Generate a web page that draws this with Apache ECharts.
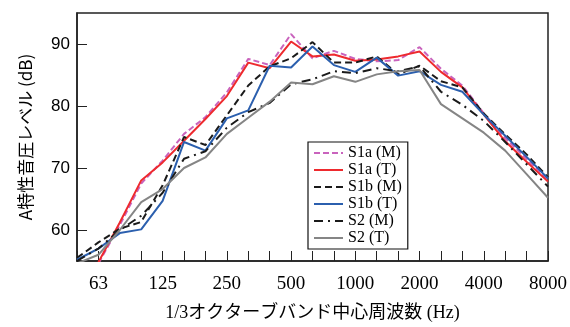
<!DOCTYPE html>
<html><head><meta charset="utf-8">
<script src="https://cdn.jsdelivr.net/npm/echarts@6/dist/echarts.min.js"></script>
<style>html,body{margin:0;padding:0;background:#fff}#c{width:570px;height:327px}</style>
</head><body><div id="c"></div>
<script>
const bands = ['50','63','80','100','125','160','200','250','315','400','500','630','800','1000','1250','1600','2000','2500','3150','4000','5000','6300','8000'];
const tickLabels = ['63','125','250','500','1000','2000','4000','8000'];
const yTicks = [60, 70, 80, 90];
const s1aM = [50.0,54.6,60.8,67.5,71.2,75.5,78.2,82.2,87.6,86.6,91.6,87.7,88.9,87.6,87.2,87.4,89.5,86.0,83.3,78.8,74.8,71.5,68.0];
const s1aT = [50.0,54.8,61.2,68.0,70.9,74.4,77.9,81.6,87.0,86.1,90.4,88.0,88.3,87.3,87.5,88.0,88.8,85.5,83.0,78.6,74.3,71.0,67.8];
const s1bM = [55.5,58.0,60.2,61.3,67.2,75.0,73.7,78.5,83.3,86.4,87.7,90.3,87.0,87.0,88.0,85.1,86.5,84.0,83.0,78.8,75.4,72.2,68.5];
const s1bT = [55.2,57.0,59.5,60.1,64.7,74.2,72.8,78.0,79.3,86.5,86.2,89.6,86.6,85.5,87.8,84.9,85.6,83.4,82.3,78.6,75.2,71.8,68.3];
const s2M  = [55.0,57.0,60.0,62.3,66.0,71.5,72.7,76.5,79.0,80.5,83.5,84.3,85.6,85.3,86.1,85.6,86.4,82.3,80.2,77.6,74.2,70.6,67.0];
const s2T  = [54.6,56.0,60.0,64.5,66.6,70.0,71.7,75.5,78.1,80.7,83.8,83.5,84.8,83.9,85.1,85.6,85.8,80.3,78.0,75.7,72.8,69.0,65.2];

const serif = '"Liberation Serif","Noto Sans CJK JP",serif';
function mk(name, data, color, type, w) {
  return { name, type: 'line', data, symbol: 'none', showSymbol: false, clip: true,
    lineStyle: { color, width: w || 2, type: type || 'solid' }, itemStyle: { color } };
}
const chart = echarts.init(document.getElementById('c'), null, { renderer: 'canvas' });
chart.setOption({
  animation: false,
  grid: { left: 77, right: 21, top: 13, bottom: 55, show: true, borderColor: '#222', borderWidth: 1.5, backgroundColor: 'transparent' },
  legend: {
    orient: 'vertical', left: 308, top: 142,
    backgroundColor: '#fff', borderColor: '#111', borderWidth: 1.2,
    padding: [3, 6, 3, 5], itemGap: 1, itemWidth: 29, itemHeight: 12,
    itemStyle: { opacity: 0 },
    textStyle: { fontFamily: serif, fontSize: 16, color: '#000', lineHeight: 16 },
    data: ['S1a (M)', 'S1a (T)', 'S1b (M)', 'S1b (T)', 'S2 (M)', 'S2 (T)']
  },
  xAxis: {
    type: 'category', data: bands, boundaryGap: false,
    name: '1/3オクターブバンド中心周波数 (Hz)', nameLocation: 'middle', nameGap: 43,
    nameTextStyle: { fontFamily: serif, fontSize: 18, color: '#000' },
    axisLine: { show: true, lineStyle: { color: '#222', width: 1.5 } },
    axisTick: { show: true, inside: true, length: 10, interval: 0, lineStyle: { color: '#222', width: 1 } },
    axisLabel: {
      interval: (i) => i % 3 === 1, margin: 14,
      formatter: (v) => (tickLabels.indexOf(v) >= 0 ? v : ''),
      fontFamily: serif, fontSize: 19, color: '#000'
    },
    splitLine: { show: false }
  },
  yAxis: {
    type: 'value', min: 55, max: 95,
    name: 'A特性音圧レベル (dB)', nameLocation: 'middle', nameGap: 43, nameRotate: 90,
    nameTextStyle: { fontFamily: '"Noto Sans CJK JP","Liberation Sans",sans-serif', fontSize: 17, color: '#000' },
    axisLine: { show: true, lineStyle: { color: '#222', width: 1.5 } },
    axisTick: { show: true, inside: true, length: 10, customValues: yTicks, lineStyle: { color: '#222', width: 1 } },
    axisLabel: { customValues: yTicks, margin: 7, fontFamily: '"Liberation Sans",Arial,sans-serif', fontSize: 17, color: '#000' },
    splitLine: { show: false }
  },
  series: [
    mk('S1a (M)', s1aM, '#c963bd', [6, 3], 2),
    mk('S1a (T)', s1aT, '#ee2a2e', 'solid', 2),
    mk('S1b (M)', s1bM, '#1a1a1a', [7, 4], 2),
    mk('S1b (T)', s1bT, '#2b5fae', 'solid', 2),
    mk('S2 (M)', s2M, '#1a1a1a', [9, 5, 2, 5], 2),
    mk('S2 (T)', s2T, '#858585', 'solid', 2)
  ]
});
</script></body></html>
